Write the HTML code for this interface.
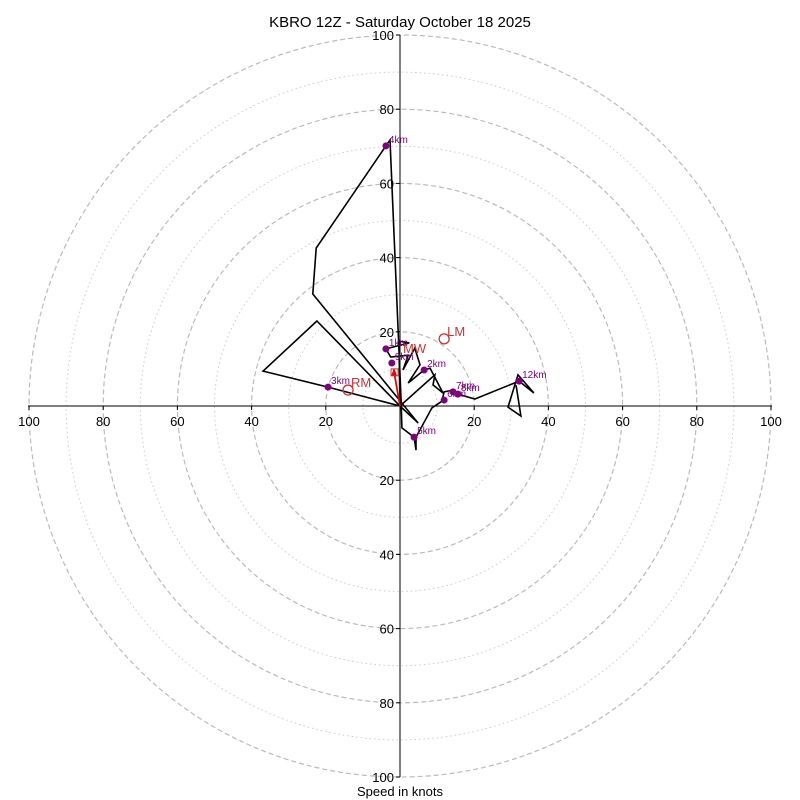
<!DOCTYPE html>
<html><head><meta charset="utf-8"><style>
body{margin:0;background:#fff}
svg{display:block;font-family:"Liberation Sans","DejaVu Sans",sans-serif}
</style></head><body>
<svg id="chart" width="800" height="800" viewBox="0 0 800 800">
<text x="400" y="27" text-anchor="middle" font-size="15">KBRO 12Z - Saturday October 18 2025</text>
<text x="400" y="796" text-anchor="middle" font-size="13">Speed in knots</text>
<g id="rings"></g><g id="axes"></g><g id="trace"></g><g id="marks"></g>
</svg>
<script>
const ringSpeeds=[10,20,30,40,50,60,70,80,90,100];
const tickValues=[20,40,60,80,100];
const traceU=[0,-0.3,2.5,-3.8,-2.5,2.2,0.8,4,5.4,2.2,6.5,8.1,11.6,8.9,9.4,0,-19.4,-36.9,-22.4,0,4.9,-23.5,-22.6,-3.8,-2.7,0.3,0.5,3.8,4.3,4.3,8.6,8.6,11.3,11.3,11.9,14.3,15.6,20.2,32.1,36.1,31.8,29.1,32.6,31.3];
const traceV=[0,17.5,17.0,15.4,13.2,13.7,9.7,15.6,11.1,6.2,9.7,10.2,3.5,5.7,8.4,0,5.1,9.4,22.9,0,-4.6,30.2,42.6,70.1,71.7,1.6,-5.9,-8.4,-11.9,-8.4,-0.5,-0.5,1.3,1.3,3.8,4.3,3.2,1.9,6.7,3.5,8.4,-0.3,-2.7,5.6];
const pointLabels=["1km","2km","3km","4km","5km","6km","7km","8km","9km","12km"];
const pointU=[-3.8,6.5,-19.4,-3.8,3.8,11.9,14.3,15.6,-2.2,32.1];
const pointV=[15.4,9.7,5.1,70.1,-8.4,1.6,3.8,3.2,11.6,6.7];
const motionLabels=["LM","RM","MW"];
const motionU=[11.9,-14.0,0];
const motionV=[18.1,4.3,13.5];
const meanU=-1.6, meanV=9.2;
const NS="http://www.w3.org/2000/svg";
const cx=400,cy=406,R=371;
const sx=u=>cx+u*R/100, sy=v=>cy-v*R/100;
function mk(tag,attrs,parent){const e=document.createElementNS(NS,tag);for(const k in attrs)e.setAttribute(k,attrs[k]);parent.appendChild(e);return e;}
const rings=document.getElementById('rings');
ringSpeeds.forEach(s=>{
 const c=mk('circle',{cx:cx,cy:cy,r:s*R/100,fill:'none',stroke:s%20?'#ccc':'#bbb','stroke-width':s%20?1:1.2,'stroke-dasharray':s%20?'1.5,3':'5,3'},rings);
 
 
});
const axes=document.getElementById('axes');
let l=mk('line',{x1:28,y1:cy,x2:772,y2:cy,stroke:'#000','stroke-width':1},axes);


l=mk('line',{x1:cx,y1:35,x2:cx,y2:777,stroke:'#000','stroke-width':1},axes);


tickValues.forEach(t=>{
 [1,-1].forEach(sg=>{
  const y=sy(sg*t);
  mk('line',{x1:cx-4,y1:y,x2:cx,y2:y,stroke:'#000'},axes);
  let tx=mk('text',{x:cx-6,y:y+5,'text-anchor':'end','font-size':13},axes);
  tx.textContent=t;
  
  
  const x=sx(sg*t);
  mk('line',{x1:x,y1:cy,x2:x,y2:cy+4,stroke:'#000'},axes);
  tx=mk('text',{x:x,y:cy+20,'text-anchor':'middle','font-size':13},axes);
  tx.textContent=t;
  
  
 });
});
const trace=document.getElementById('trace');
const pts=traceU.map((u,i)=>sx(u).toFixed(1)+','+sy(traceV[i]).toFixed(1)).join(' ');
const pl=mk('polyline',{points:pts,fill:'none',stroke:'#000','stroke-width':1.6,'stroke-linejoin':'miter'},trace);


const marks=document.getElementById('marks');
const ar=mk('line',{x1:cx,y1:cy,x2:sx(meanU),y2:sy(meanV),stroke:'#e00','stroke-width':1.8},marks);


mk('polygon',{points:`${sx(meanU)},${sy(meanV)-4} ${sx(meanU)-3},${sy(meanV)+4} ${sx(meanU)+3},${sy(meanV)+4}`,fill:'#e00'},marks);
const sq=mk('rect',{x:sx(meanU)-3,y:sy(meanV)-3,width:7,height:7,fill:'none',stroke:'#c33','stroke-width':1},marks);


pointLabels.forEach((lab,i)=>{
 const c=mk('circle',{cx:sx(pointU[i]),cy:sy(pointV[i]),r:3.5,fill:'#800080'},marks);
 
 
 const t=mk('text',{x:sx(pointU[i])+3,y:sy(pointV[i])-3,'font-size':10,fill:'#800080'},marks);
 t.textContent=lab;
 
 
});
motionLabels.forEach((lab,i)=>{
 if(lab!=='MW'){
  const c=mk('circle',{cx:sx(motionU[i]),cy:sy(motionV[i]),r:5,fill:'none',stroke:'#c33','stroke-width':1.3},marks);
  
  
 }
 const t=mk('text',{x:sx(motionU[i])+3,y:sy(motionV[i])-3,'font-size':13,fill:'#c33'},marks);
 t.textContent=lab;
 
 
});
</script>
</body></html>
